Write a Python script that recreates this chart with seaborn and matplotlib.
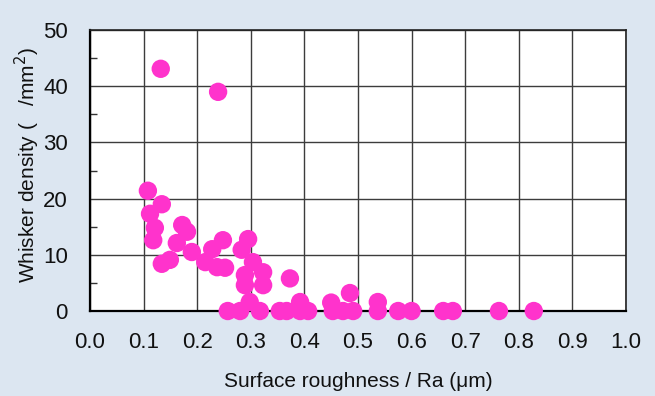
import matplotlib
matplotlib.use("Agg")
import matplotlib.pyplot as plt
import seaborn as sns
import pandas as pd
import numpy as np

roughness = [0.132, 0.239, 0.108, 0.134, 0.112, 0.121, 0.118, 0.172, 0.181, 0.162,
             0.190, 0.134, 0.149, 0.228, 0.248, 0.215, 0.237, 0.252, 0.295, 0.283,
             0.304, 0.289, 0.323, 0.289, 0.323, 0.373, 0.485, 0.298, 0.392, 0.450,
             0.537, 0.257, 0.280, 0.317, 0.354, 0.367, 0.392, 0.407, 0.453, 0.472,
             0.491, 0.537, 0.575, 0.600, 0.659, 0.677, 0.763, 0.828]
density = [43.1, 39.0, 21.4, 19.0, 17.3, 14.8, 12.6, 15.3, 14.1, 12.1,
           10.5, 8.4, 9.1, 11.0, 12.6, 8.7, 7.8, 7.7, 12.8, 10.9,
           8.7, 6.4, 6.9, 4.6, 4.6, 5.8, 3.2, 1.6, 1.6, 1.5,
           1.6, 0.0, 0.0, 0.0, 0.0, 0.0, 0.0, 0.0, 0.0, 0.0,
           0.0, 0.0, 0.0, 0.0, 0.0, 0.0, 0.0, 0.0]

x_ticks = [0.0, 0.1, 0.2, 0.3, 0.4, 0.5, 0.6, 0.7, 0.8, 0.9, 1.0]
y_ticks = [0, 10, 20, 30, 40, 50]

df = pd.DataFrame({"Ra": roughness, "density": density})

sns.set_style("white")
plt.rcParams['font.family'] = ['Liberation Sans', 'DejaVu Sans']

fig = plt.figure(figsize=(6.55, 3.96), dpi=100)
fig.patch.set_facecolor("#DCE6F1")
ax = fig.add_axes([0.1374, 0.2146, 0.9557 - 0.1374, 0.9242 - 0.2146])
ax.set_facecolor("white")

sns.scatterplot(data=df, x="Ra", y="density", ax=ax, color="#FF33CC",
                s=175, edgecolor="none", zorder=3, clip_on=False)

ax.set_xlim(0, 1.0)
ax.set_ylim(0, 50)
ax.set_xticks(x_ticks)
ax.set_xticklabels([f"{v:.1f}" for v in x_ticks])
ax.set_yticks(y_ticks)
ax.set_yticklabels([str(v) for v in y_ticks])
ax.set_yticks(np.arange(5, 50, 10), minor=True)

ax.grid(True, which="major", color="#3C3C3C", linewidth=1.0)
ax.set_axisbelow(True)

for s in ax.spines.values():
    s.set_visible(True)
    s.set_color("#222222")
    s.set_linewidth(1.2)
ax.spines["left"].set_linewidth(1.6)
ax.spines["bottom"].set_linewidth(1.6)
ax.spines["left"].set_color("black")
ax.spines["bottom"].set_color("black")

ax.tick_params(axis="y", which="major", length=0, pad=16, labelsize=16, labelcolor="#111111")
ax.tick_params(axis="y", which="minor", direction="in", length=5, width=1, color="#333333", left=True)
ax.tick_params(axis="x", which="major", length=0, pad=15, labelsize=16, labelcolor="#111111")

ax.set_xlabel("Surface roughness / Ra (\u03bcm)", fontsize=15, color="#111111")
ax.xaxis.label.set_va("center")
ax.xaxis.set_label_coords(0.5, -0.252)
ax.set_ylabel("Whisker density (   /mm$^2$)", fontsize=15, color="#111111")
ax.yaxis.set_label_coords(-0.09, 0.52)

fig.savefig("out.png", dpi=100, facecolor=fig.get_facecolor())
